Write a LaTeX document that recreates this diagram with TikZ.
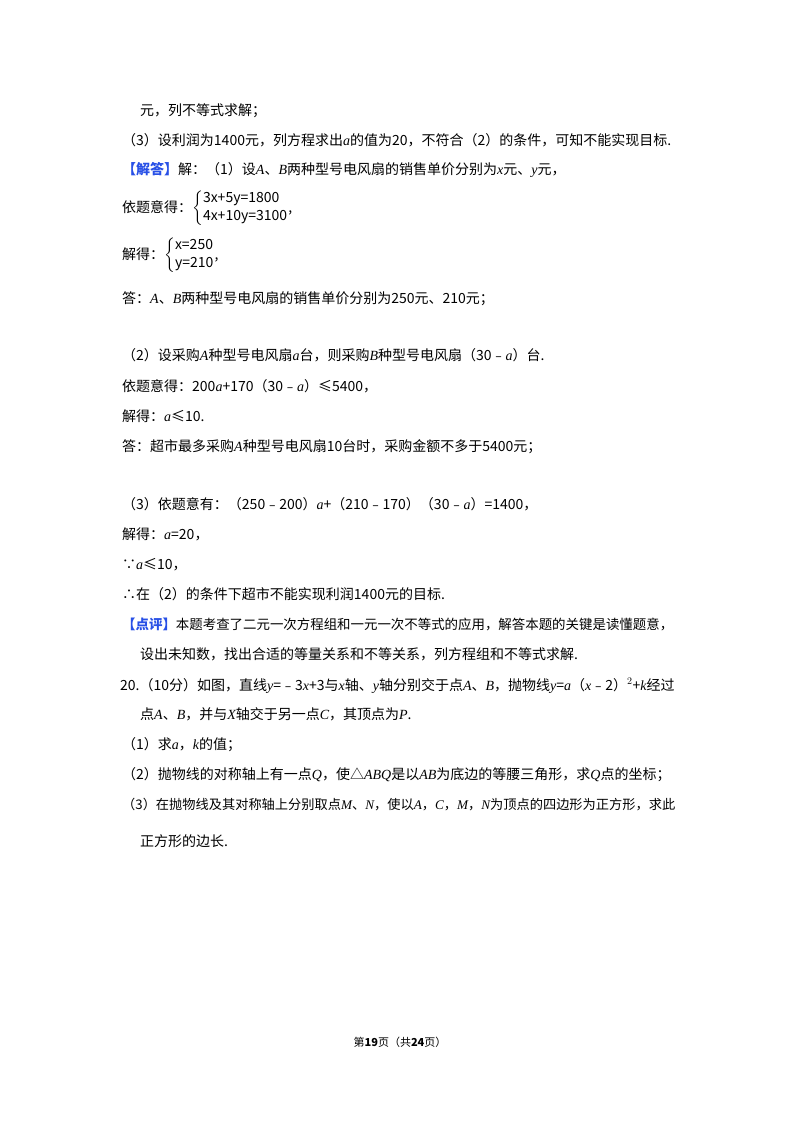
\documentclass[tikz,border=0pt]{standalone}
\usepackage{fontspec}
\usepackage{amsmath}
\usepackage{graphicx}
\setmainfont{Noto Sans CJK SC}
\newfontfamily\vi{Liberation Serif}
\newcommand{\vv}[1]{{\vi\itshape #1}}
\definecolor{ans}{RGB}{40,80,230}
\begin{document}
\begin{tikzpicture}[x=1pt,y=-1pt,
  ln/.style={anchor=base west,inner sep=0pt,font=\fontsize{14}{16}\selectfont}]
\useasboundingbox (0,0) rectangle (800,1132);
\node[ln] (l1) at (140,115) {元，列不等式求解；};
\node[ln] (l2) at (122,145) {（3）设利润为1400元，列方程求出\vv{a}的值为20，不符合（2）的条件，可知不能实现目标.};
\node[ln] (l3) at (122,174) {{\color{ans}\bfseries【解答】}解：（1）设\vv{A}、\vv{B}两种型号电风扇的销售单价分别为\vv{x}元、\vv{y}元，};
\node[ln] (l4) at (122,212) {依题意得：$\left\{\begin{array}{@{}l@{}}\mbox{3x+5y=1800}\\[2pt]\mbox{4x+10y=3100}\end{array}\right.$,};
\node[ln] (l5) at (122,259) {解得：$\left\{\begin{array}{@{}l@{}}\mbox{x=250}\\[2pt]\mbox{y=210}\end{array}\right.$,};
\node[ln] (l6) at (122,303) {答：\vv{A}、\vv{B}两种型号电风扇的销售单价分别为250元、210元；};
\node[ln] (l7) at (122,360) {（2）设采购\vv{A}种型号电风扇\vv{a}台，则采购\vv{B}种型号电风扇（30﹣\vv{a}）台.};
\node[ln] (l8) at (122,391) {依题意得：200\vv{a}+170（30﹣\vv{a}）≤5400，};
\node[ln] (l9) at (122,421) {解得：\vv{a}≤10.};
\node[ln] (l10) at (122,451) {答：超市最多采购\vv{A}种型号电风扇10台时，采购金额不多于5400元；};
\node[ln] (l11) at (122,509) {（3）依题意有：（250﹣200）\vv{a}+（210﹣170）（30﹣\vv{a}）=1400，};
\node[ln] (l12) at (122,539) {解得：\vv{a}=20，};
\node[ln] (l13) at (122,569) {∵\vv{a}≤10，};
\node[ln] (l14) at (122,599) {∴在（2）的条件下超市不能实现利润1400元的目标.};
\node[ln] (l15) at (122,629) {\resizebox{551pt}{!}{{\color{ans}\bfseries【点评】}本题考查了二元一次方程组和一元一次不等式的应用，解答本题的关键是读懂题意，}};
\node[ln] (l16) at (140,659) {设出未知数，找出合适的等量关系和不等关系，列方程组和不等式求解.};
\node[ln] (l17) at (120,690) {20.（10分）如图，直线\vv{y}=﹣3\vv{x}+3与\vv{x}轴、\vv{y}轴分别交于点\vv{A}、\vv{B}，抛物线\vv{y}=\vv{a}（\vv{x}﹣2）$^2$+\vv{k}经过};
\node[ln] (l18) at (140,719) {点\vv{A}、\vv{B}，并与\vv{X}轴交于另一点\vv{C}，其顶点为\vv{P}.};
\node[ln] (l19) at (122,749) {（1）求\vv{a}，\vv{k}的值；};
\node[ln] (l20) at (122,779) {（2）抛物线的对称轴上有一点\vv{Q}，使△\vv{ABQ}是以\vv{AB}为底边的等腰三角形，求\vv{Q}点的坐标；};
\node[ln] (l21) at (122,809) {\resizebox{553pt}{!}{（3）在抛物线及其对称轴上分别取点\vv{M}、\vv{N}，使以\vv{A}，\vv{C}，\vv{M}，\vv{N}为顶点的四边形为正方形，求此}};
\node[ln] (l22) at (140,846) {正方形的边长.};
\node[anchor=base,inner sep=0pt,font=\fontsize{11}{13}\selectfont] (ft) at (400,1046) {第\textbf{19}页（共\textbf{24}页）};
\end{tikzpicture}
\end{document}
